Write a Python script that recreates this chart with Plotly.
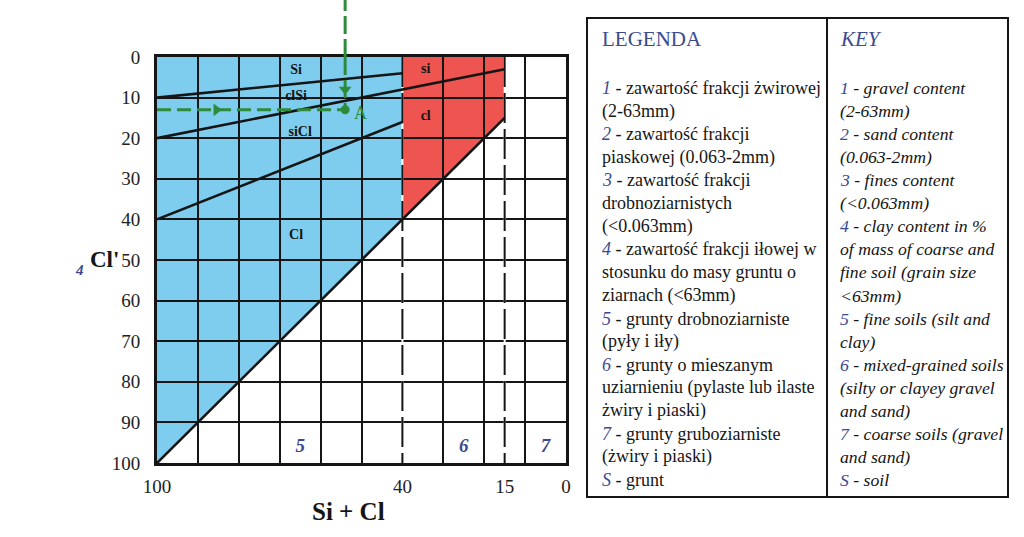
import plotly.graph_objects as go

# ---------------- data ----------------
X_TICKS = [100, 40, 15, 0]
Y_TICKS = [0, 10, 20, 30, 40, 50, 60, 70, 80, 90, 100]
GRID_X = [90, 80, 70, 60, 50, 30, 20, 10]
DASHED_X = [40, 15]

# region polygons (Si+Cl, Cl')
FINE_X = [100, 40, 40, 100]
FINE_Y = [0, 0, 40, 100]
MIXED_X = [40, 15, 15, 40]
MIXED_Y = [0, 0, 15, 40]

# boundary lines
LINE_SI_X, LINE_SI_Y = [100, 40], [10, 4]
LINE_CLSI_X, LINE_CLSI_Y = [100, 15], [20, 3]
LINE_SICL_X, LINE_SICL_Y = [100, 40], [40, 16]
LINE_DIAG_X, LINE_DIAG_Y = [100, 15], [100, 15]

SOIL_LABELS = ["Si", "clSi", "siCl", "Cl", "si", "cl"]
SOIL_X = [66, 66, 65, 66, 34.3, 34.3]
SOIL_Y = [3.4, 9.7, 18.7, 44, 3.1, 14.6]

GROUP_LABELS = ["5", "6", "7"]
GROUP_X = [65, 25, 5]
GROUP_Y = [96, 96, 96]

A_X, A_Y = 54, 13
ARROW_V_Y = 8
ARROW_H_X = 85.5

LEGENDA_PREFIX = ["1", "", "2", "", "3", "", "", "4", "", "", "5", "", "6", "", "", "7", "", "S"]
LEGENDA_TEXT = [
    " - zawartość frakcji żwirowej", "(2-63mm)",
    " - zawartość frakcji", "piaskowej (0.063-2mm)",
    " - zawartość frakcji", "drobnoziarnistych", "(<0.063mm)",
    " - zawartość frakcji iłowej w", "stosunku do masy gruntu o", "ziarnach (<63mm)",
    " - grunty drobnoziarniste", "(pyły i iły)",
    " - grunty o mieszanym", "uziarnieniu (pylaste lub ilaste", "żwiry i piaski)",
    " - grunty gruboziarniste", "(żwiry i piaski)",
    " - grunt",
]
KEY_TEXT = [
    " - gravel content", "(2-63mm)",
    " - sand content", "(0.063-2mm)",
    " - fines content", "(<0.063mm)",
    " - clay content in %", "of mass of coarse and", "fine soil (grain size", "<63mm)",
    " - fine soils (silt and", "clay)",
    " - mixed-grained soils", "(silty or clayey gravel", "and sand)",
    " - coarse soils (gravel", "and sand)",
    " - soil",
]
KEY_PREFIX = ["1", "", "2", "", "3", "", "4", "", "", "", "5", "", "6", "", "", "7", "", "S"]

# ---------------- style ----------------
W, H = 1024, 537
ML, MR, MT, MB = 157, 458, 57, 74
PW, PH = W - ML - MR, H - MT - MB
BLUE_FILL = "#7fcdee"
RED_FILL = "#ee5550"
GREEN = "#2e8b3c"
TXT_BLUE = "#3b4a8f"
INK = "#151515"
SERIF = "Liberation Serif"


def px(X):
    return (X - ML) / PW


def py(Y):
    return (H - MB - Y) / PH


fig = go.Figure()


def path(xs, ys):
    return "M" + " L".join(f"{x},{y}" for x, y in zip(xs, ys)) + " Z"


shapes = [
    dict(type="path", xref="x", yref="y", path=path(FINE_X, FINE_Y),
         fillcolor=BLUE_FILL, line=dict(width=0), layer="below"),
    dict(type="path", xref="x", yref="y", path=path(MIXED_X, MIXED_Y),
         fillcolor=RED_FILL, line=dict(width=0), layer="below"),
    # green guide above the plot area
    dict(type="line", xref="x", yref="paper", x0=A_X, x1=A_X, y0=1, y1=py(0),
         line=dict(color=GREEN, width=3, dash="18px,5px")),
    # legend table
    dict(type="rect", xref="paper", yref="paper", x0=px(587), x1=px(1008), y0=py(18), y1=py(497),
         line=dict(color=INK, width=2)),
    dict(type="line", xref="paper", yref="paper", x0=px(827), x1=px(827), y0=py(18), y1=py(497),
         line=dict(color=INK, width=2)),
]

# dashed class boundaries: white base + black dashes
for xv in DASHED_X:
    fig.add_trace(go.Scatter(x=[xv, xv], y=[0, 100], mode="lines",
                             line=dict(color="white", width=2), hoverinfo="skip", showlegend=False))
    fig.add_trace(go.Scatter(x=[xv, xv], y=[0, 100], mode="lines",
                             line=dict(color=INK, width=2, dash="30px,6px"), hoverinfo="skip", showlegend=False))

for lx, ly in [(LINE_SI_X, LINE_SI_Y), (LINE_CLSI_X, LINE_CLSI_Y),
               (LINE_SICL_X, LINE_SICL_Y), (LINE_DIAG_X, LINE_DIAG_Y)]:
    fig.add_trace(go.Scatter(x=lx, y=ly, mode="lines", line=dict(color=INK, width=2.6),
                             hoverinfo="skip", showlegend=False))

# green construction lines
fig.add_trace(go.Scatter(x=[100, A_X], y=[A_Y, A_Y], mode="lines",
                         line=dict(color=GREEN, width=3, dash="14px,6px"), showlegend=False))
fig.add_trace(go.Scatter(x=[A_X, A_X], y=[0, A_Y], mode="lines",
                         line=dict(color=GREEN, width=3, dash="18px,5px"), showlegend=False))
fig.add_trace(go.Scatter(x=[A_X], y=[ARROW_V_Y], mode="markers",
                         marker=dict(symbol="triangle-down", size=11, color=GREEN), showlegend=False))
fig.add_trace(go.Scatter(x=[ARROW_H_X], y=[A_Y], mode="markers",
                         marker=dict(symbol="triangle-right", size=11, color=GREEN), showlegend=False))
fig.add_trace(go.Scatter(x=[A_X], y=[A_Y], mode="markers",
                         marker=dict(symbol="circle", size=9, color=GREEN), showlegend=False))

# soil labels
fig.add_trace(go.Scatter(x=SOIL_X, y=SOIL_Y, mode="text", text=[f"<b>{t}</b>" for t in SOIL_LABELS],
                         textfont=dict(family=SERIF, size=14, color=INK), showlegend=False))
fig.add_trace(go.Scatter(x=GROUP_X, y=GROUP_Y, mode="text", text=[f"<b><i>{t}</i></b>" for t in GROUP_LABELS],
                         textfont=dict(family=SERIF, size=19, color=TXT_BLUE), showlegend=False))


def note(X, Y, text, size, color=INK, xanchor="center"):
    return dict(x=px(X), y=py(Y), xref="paper", yref="paper", text=text, showarrow=False,
                xanchor=xanchor, yanchor="middle", font=dict(family=SERIF, size=size, color=color))


annotations = [
    dict(x=A_X, y=A_Y, xref="x", yref="y", text="A", showarrow=False, xshift=15, yshift=-3,
         xanchor="center", yanchor="middle", font=dict(family=SERIF, size=18, color=GREEN)),
    note(121, 259, "<b>Cl'</b>", 23, xanchor="right"),
    note(79, 270, "<b><i>4</i></b>", 15, color=TXT_BLUE),
    note(348, 511, "<b>Si + Cl</b>", 25),
    note(600, 39, "LEGENDA", 21, color=TXT_BLUE, xanchor="left"),
    note(838, 39, "<i>KEY</i>", 21, color=TXT_BLUE, xanchor="left"),
]

LINE0, DY = 88, 23.06
for i, (p, t) in enumerate(zip(LEGENDA_PREFIX, LEGENDA_TEXT)):
    txt = (f"<span style='color:{TXT_BLUE}'><i>{p}</i></span>" if p else "") + t
    annotations.append(note(600, LINE0 + i * DY, txt, 18, xanchor="left"))
for i, (p, t) in enumerate(zip(KEY_PREFIX, KEY_TEXT)):
    txt = (f"<span style='color:{TXT_BLUE}'>{p}</span>" if p else "") + t
    annotations.append(note(838, LINE0 + i * DY, f"<i>{txt}</i>", 17.7, xanchor="left"))

fig.update_layout(
    width=W, height=H,
    margin=dict(l=ML, r=MR, t=MT, b=MB, pad=0),
    paper_bgcolor="white", plot_bgcolor="white",
    showlegend=False,
    shapes=shapes,
    annotations=annotations,
    xaxis=dict(range=[100, 0], tickmode="array", tickvals=X_TICKS, ticktext=[str(v) for v in X_TICKS],
               showgrid=False, zeroline=False, showline=True, mirror=True, linecolor=INK, linewidth=3,
               ticks="", ticklabelstandoff=4,
               tickfont=dict(family=SERIF, size=19, color="#222"),
               minor=dict(tickmode="array", tickvals=GRID_X, showgrid=True, gridcolor=INK, gridwidth=1.5)),
    yaxis=dict(range=[100, 0], tickmode="array", tickvals=Y_TICKS, ticktext=[str(v) for v in Y_TICKS],
               showgrid=True, gridcolor=INK, gridwidth=1.5, zeroline=False,
               showline=True, mirror=True, linecolor=INK, linewidth=3,
               ticks="", ticklabelstandoff=10,
               tickfont=dict(family=SERIF, size=19, color="#222")),
)

fig.write_html("out.html", config={"displayModeBar": False},
               post_script="document.body.style.margin='0px';")
